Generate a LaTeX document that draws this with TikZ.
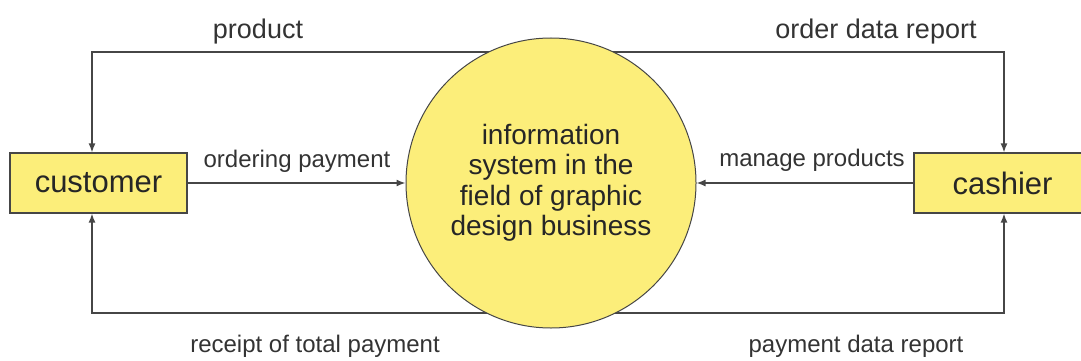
\documentclass[tikz,border=0pt]{standalone}
\usepackage{fontspec}
\setmainfont{Liberation Sans}
\usetikzlibrary{arrows.meta,backgrounds}
\definecolor{boxyellow}{RGB}{252,238,122}
\definecolor{linegray}{RGB}{70,70,70}

\begin{document}
\begin{tikzpicture}[x=1pt,y=-1pt,
    entity/.style={draw=linegray,line width=1.2pt,fill=boxyellow,text=black!85,
      minimum width=177pt,minimum height=60pt,inner sep=0pt,font=\fontsize{31}{34}\selectfont},
    process/.style={circle,draw=linegray,line width=1pt,fill=boxyellow,text=black!85,
      minimum size=290pt,inner sep=0pt,align=center,font=\fontsize{28}{30.5}\selectfont},
    flow/.style={draw=linegray,line width=1.4pt,-{Latex[length=9pt,width=7pt]}},
    lbl/.style={anchor=base,text=black!80,font=\fontsize{24}{28}\selectfont},
    toplbl/.style={lbl,font=\fontsize{27}{30}\selectfont}]
  \clip (0,0) rectangle (1081,361);
  % entities and process
  \node[entity](customer)at(98.5,183){customer};
  \node[entity](cashier)at(1002.5,183){cashier};
  \node[process](sys)at(551,183){information\\system in the\\field of graphic\\design business};
  % corners of the outer flows
  \coordinate (tl) at (92,52);
  \coordinate (tr) at (1004,52);
  \coordinate (bl) at (92,313);
  \coordinate (br) at (1004,313);
  \begin{scope}[on background layer]
    \draw[flow](sys.center |- tl)--(tl)--(tl |- customer.north);
    \draw[flow](sys.center |- tr)--(tr)--(tr |- cashier.north);
    \draw[flow](sys.center |- bl)--(bl)--(bl |- customer.south);
    \draw[flow](sys.center |- br)--(br)--(br |- cashier.south);
  \end{scope}
  \draw[flow](customer.east)--(sys.west);
  \draw[flow](cashier.west)--(sys.east);
  % flow labels
  \node[toplbl](lproduct)at(258,38){product};
  \node[toplbl](lorder)at(876,38){order data report};
  \node[lbl](lordering)at(297,167){ordering payment};
  \node[lbl](lmanage)at(812,166){manage products};
  \node[lbl](lreceipt)at(315,352){receipt of total payment};
  \node[lbl](lpayment)at(856,352){payment data report};
\end{tikzpicture}
\end{document}
